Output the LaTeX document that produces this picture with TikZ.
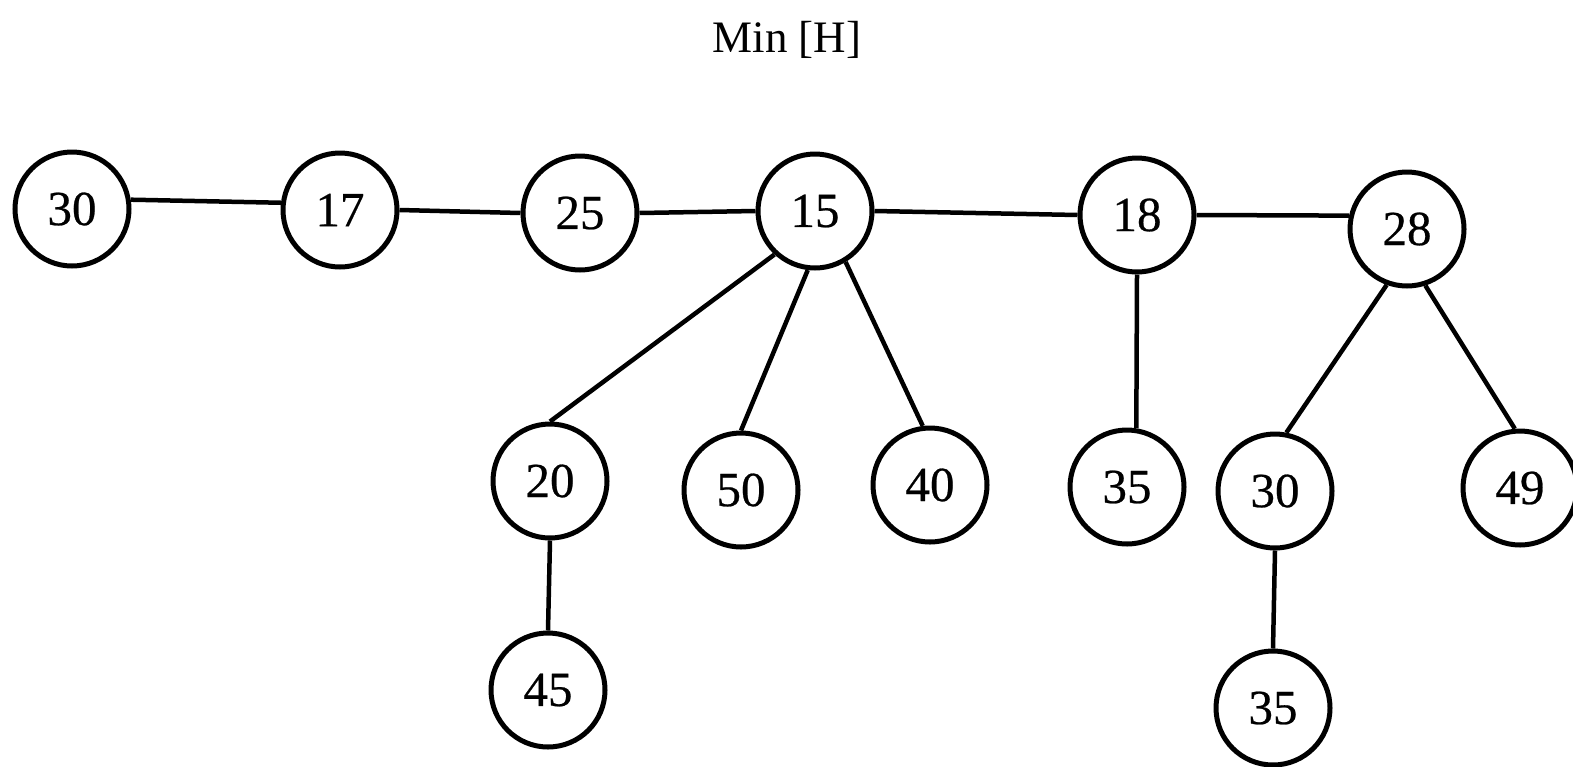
\documentclass[tikz,border=0pt]{standalone}
\usepackage{fontspec}
\setmainfont{Liberation Serif}
\newfontfamily\nodefont[FakeBold=0.5]{Liberation Serif}
\begin{document}
\begin{tikzpicture}[x=1pt,y=-1pt,
  hnode/.style={circle,draw,line width=5pt,minimum size=114pt,inner sep=0pt,font=\nodefont\fontsize{49}{52}\selectfont},
  edge/.style={line width=4.5pt}]
\useasboundingbox (0,0) rectangle (1573,766);
\node[font=\fontsize{45}{48}\selectfont] (title) at (787,40) {Min [H]};
\node[hnode] (a30) at (72,209) {30};
\node[hnode] (a17) at (340,210) {17};
\node[hnode] (a25) at (580,213) {25};
\node[hnode] (a15) at (815,211) {15};
\node[hnode] (a18) at (1137,215) {18};
\node[hnode] (a28) at (1407,229) {28};
\node[hnode] (b20) at (550,481) {20};
\node[hnode] (b50) at (741,490) {50};
\node[hnode] (b40) at (930,485) {40};
\node[hnode] (b35) at (1127,487) {35};
\node[hnode] (b30) at (1275,491) {30};
\node[hnode] (b49) at (1520,488) {49};
\node[hnode] (c45) at (548,690) {45};
\node[hnode] (c35) at (1273,708) {35};
\draw[edge] (a30.9) -- (a17.173);
\draw[edge] (a17.east) -- (a25.west);
\draw[edge] (a25.east) -- (a15.west);
\draw[edge] (a15.east) -- (a18.west);
\draw[edge] (a18.east) -- (a28.167);
\draw[edge] (a15.227) -- (b20.north);
\draw[edge] (a15.263) -- (b50.north);
\draw[edge] (a15.301) -- (b40.97);
\draw[edge] (a18.south) -- (b35.81);
\draw[edge] (a28.250) -- (b30.79);
\draw[edge] (a28.288) -- (b49.95);
\draw[edge] (b20.south) -- (c45.north);
\draw[edge] (b30.south) -- (c35.north);
\end{tikzpicture}
\end{document}
